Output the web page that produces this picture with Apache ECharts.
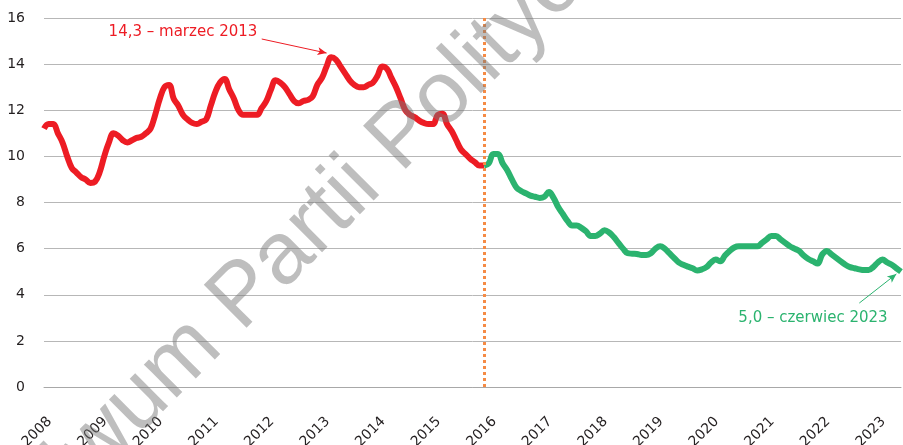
<!DOCTYPE html>
<html>
<head>
<meta charset="utf-8">
<script src="https://cdn.jsdelivr.net/npm/echarts@6/dist/echarts.min.js"></script>
<style>
  html, body { margin: 0; padding: 0; background: #fff; }
  #chart { width: 903px; height: 445px; }
</style>
</head>
<body>
<div id="chart"></div>
<script>
// lata na osi X, dane miesięczne od stycznia 2008 do czerwca 2023
var years = [2008, 2009, 2010, 2011, 2012, 2013, 2014, 2015, 2016, 2017, 2018, 2019, 2020, 2021, 2022, 2023];
var lastMonth = 6; // czerwiec 2023
var yTicks = [0, 2, 4, 6, 8, 10, 12, 14, 16];

// stopa bezrobocia 2008-01 .. 2015-12 (czerwona)
var redValues = [
  11.2, 11.4, 11.4, 11.0, 10.6, 10.0, 9.5, 9.3, 9.1, 9.0, 8.85, 8.9,
  9.3, 10.0, 10.6, 11.0, 10.9, 10.7, 10.6, 10.7, 10.8, 10.85, 11.0, 11.2,
  11.8, 12.5, 13.0, 13.1, 12.5, 12.2, 11.8, 11.6, 11.45, 11.4, 11.5, 11.6,
  12.2, 12.8, 13.2, 13.35, 12.9, 12.5, 12.0, 11.8, 11.8, 11.8, 11.8, 12.1,
  12.4, 12.9, 13.3, 13.2, 13.0, 12.7, 12.4, 12.3, 12.4, 12.45, 12.6, 13.1,
  13.4, 13.9, 14.3, 14.2, 13.9, 13.6, 13.3, 13.1, 13.0, 13.0, 13.1, 13.2,
  13.5, 13.9, 13.8, 13.4, 13.0, 12.5, 12.0, 11.8, 11.7, 11.55, 11.45, 11.4,
  11.4, 11.8, 11.85, 11.4, 11.1, 10.7, 10.3, 10.1, 9.9, 9.75, 9.6, 9.6
];
// stopa bezrobocia 2015-12 .. 2023-06 (zielona)
var greenValues = [
  9.6, 9.7, 10.1, 10.1, 9.7, 9.4, 9.0, 8.65, 8.5, 8.4, 8.3, 8.25, 8.2,
  8.25, 8.45, 8.2, 7.8, 7.5, 7.2, 7.0, 7.0, 6.9, 6.75, 6.55, 6.55,
  6.65, 6.8, 6.7, 6.5, 6.25, 6.0, 5.8, 5.78, 5.77, 5.72, 5.72, 5.8,
  6.0, 6.1, 6.0, 5.8, 5.6, 5.4, 5.3, 5.22, 5.15, 5.05, 5.1, 5.2,
  5.4, 5.53, 5.45, 5.7, 5.9, 6.05, 6.1, 6.1, 6.1, 6.1, 6.1, 6.25,
  6.4, 6.55, 6.55, 6.4, 6.25, 6.1, 6.0, 5.9, 5.7, 5.55, 5.45, 5.35,
  5.75, 5.9, 5.75, 5.6, 5.45, 5.3, 5.2, 5.15, 5.1, 5.07, 5.07, 5.2,
  5.4, 5.53, 5.4, 5.3, 5.15, 5.0
];
var peakIndex = 62; // marzec 2013
var notes = ['marzec 2013', 'czerwiec 2023'];

var months = [];
years.forEach(function (y) {
  for (var m = 1; m <= 12; m++) {
    if (y === years[years.length - 1] && m > lastMonth) break;
    months.push(y + '-' + (m < 10 ? '0' + m : m));
  }
});
var splitIndex = redValues.length - 1;
var redData = months.map(function (d, i) { return i < redValues.length ? redValues[i] : null; });
var greenData = months.map(function (d, i) {
  var k = i - splitIndex;
  return k >= 0 && k < greenValues.length ? greenValues[k] : null;
});
function pl(v) { return v.toFixed(1).replace('.', ','); }

var RED = '#ed1c24', GREEN = '#2bb36f', ORANGE = '#f58b45';
var FONT = 'DejaVu Sans';

var chart = echarts.init(document.getElementById('chart'));
var option = {
  animation: false,
  grid: { left: 44, right: 2, top: 18, bottom: 58, containLabel: false, outerBoundsMode: 'none' },
  xAxis: {
    type: 'category',
    data: months,
    boundaryGap: false,
    axisLine: { show: true, lineStyle: { color: '#a8a8a8', width: 1 } },
    axisTick: { show: false },
    splitLine: { show: false },
    axisLabel: {
      interval: function (i) { return i % 12 === 0; },
      formatter: function (v) { return v.slice(0, 4); },
      rotate: 45,
      margin: 38,
      padding: [0, -8, 0, 0],
      color: '#231f20',
      fontSize: 14,
      fontFamily: FONT
    }
  },
  yAxis: {
    type: 'value',
    min: yTicks[0],
    max: yTicks[yTicks.length - 1],
    interval: yTicks[1] - yTicks[0],
    axisLine: { show: false },
    axisTick: { show: false },
    splitLine: { lineStyle: { color: '#b7b7b7', width: 1 } },
    axisLabel: { margin: 19, color: '#231f20', fontSize: 14, fontFamily: FONT }
  },
  series: [
    {
      name: 'do 2015',
      type: 'line',
      data: redData,
      smooth: 0.4,
      showSymbol: false,
      lineStyle: { color: RED, width: 6 },
      itemStyle: { color: RED },
      z: 3,
      markLine: {
        silent: true,
        symbol: ['none', 'none'],
        label: { show: false },
        data: [
          { xAxis: months[splitIndex], lineStyle: { color: ORANGE, width: 3, type: [3, 3] } },
          [
            { coord: [46.6, 15.09], symbol: 'none', lineStyle: { color: RED, width: 1, type: 'solid' } },
            { coord: [61.3, 14.48], symbol: 'arrow', symbolSize: [6, 9] }
          ]
        ]
      },
      markPoint: {
        silent: true,
        symbol: 'circle',
        symbolSize: 0,
        data: [{
          coord: [30, 15.4],
          label: {
            show: true, position: 'inside',
            formatter: pl(redValues[peakIndex]) + ' – ' + notes[0],
            color: RED, fontSize: 15, fontFamily: FONT
          }
        }]
      }
    },
    {
      name: 'od 2016',
      type: 'line',
      data: greenData,
      smooth: 0.4,
      showSymbol: false,
      lineStyle: { color: GREEN, width: 6 },
      itemStyle: { color: GREEN },
      z: 3,
      markLine: {
        silent: true,
        symbol: ['none', 'none'],
        label: { show: false },
        data: [
          [
            { coord: [175.6, 3.64], symbol: 'none', lineStyle: { color: GREEN, width: 1, type: 'solid' } },
            { coord: [183.7, 4.9], symbol: 'arrow', symbolSize: [6, 9] }
          ]
        ]
      },
      markPoint: {
        silent: true,
        symbol: 'circle',
        symbolSize: 0,
        data: [{
          coord: [166, 2.99],
          label: {
            show: true, position: 'inside',
            formatter: pl(greenValues[greenValues.length - 1]) + ' – ' + notes[1],
            color: GREEN, fontSize: 15, fontFamily: FONT
          }
        }]
      }
    }
  ],
  graphic: [{
    type: 'text',
    x: -66,
    y: 606,
    rotation: Math.PI / 4,
    z: 100,
    silent: true,
    style: {
      text: 'Archiwum Partii Politycznych',
      font: '88px "Liberation Sans"',
      fill: 'rgba(120,120,120,0.48)',
      textAlign: 'left',
      textVerticalAlign: 'middle'
    }
  }]
};
chart.setOption(option);
</script>
</body>
</html>
